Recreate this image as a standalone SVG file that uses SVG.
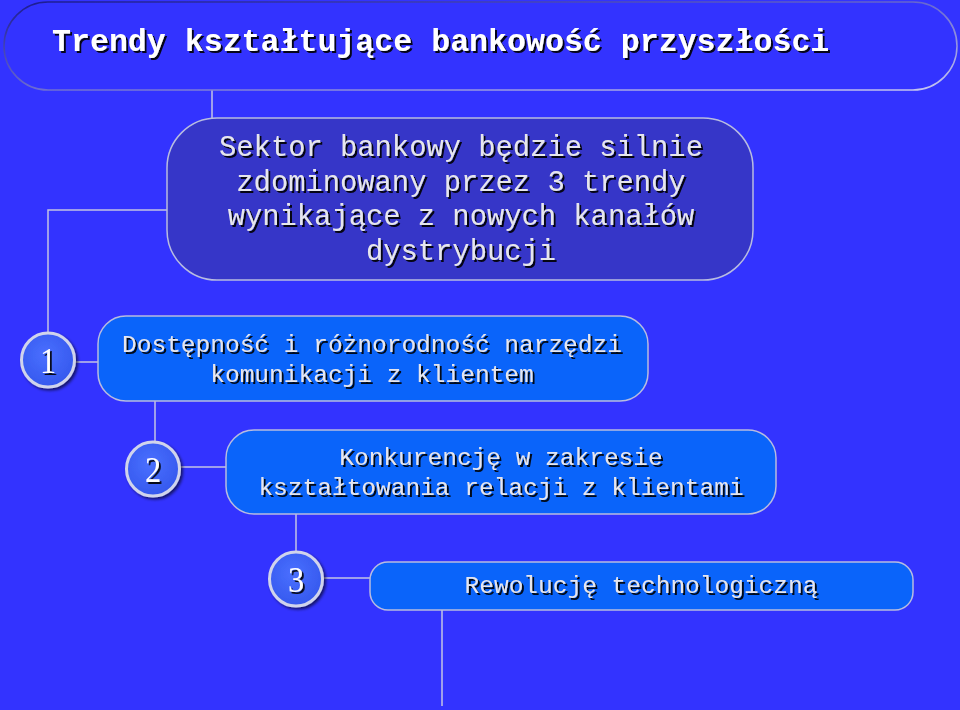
<svg xmlns="http://www.w3.org/2000/svg" width="960" height="710" viewBox="0 0 960 710">
<defs>
<linearGradient id="tb" x1="0" y1="0" x2="1" y2="1">
<stop offset="0" stop-color="#1a1a90"/>
<stop offset="0.5" stop-color="#6a6ad0"/>
<stop offset="1" stop-color="#c8c8f0"/>
</linearGradient>
<radialGradient id="cg" cx="0.45" cy="0.4" r="0.6">
<stop offset="0" stop-color="#4a70ff"/>
<stop offset="1" stop-color="#3558ee"/>
</radialGradient>
<filter id="sh" x="-10%" y="-30%" width="120%" height="160%">
<feDropShadow dx="2" dy="2" stdDeviation="0.6" flood-color="#000" flood-opacity="0.9"/>
</filter>
<filter id="cs" x="-30%" y="-30%" width="160%" height="160%">
<feDropShadow dx="2" dy="2" stdDeviation="1.5" flood-color="#000" flood-opacity="0.6"/>
</filter>
</defs>
<style>
.title{font-family:"Liberation Mono","Courier New",monospace;font-weight:bold;font-size:31.6px;fill:#ffffff;}
.t{font-family:"Liberation Mono","Courier New",monospace;font-size:28.8px;fill:#e6e6ee;text-anchor:middle;}
.s{font-family:"Liberation Mono","Courier New",monospace;font-size:24.5px;fill:#e6e6ee;text-anchor:middle;}
.num{font-family:"Liberation Serif","Times New Roman",serif;font-size:36px;fill:#ffffff;text-anchor:middle;}
.conn{stroke:#c4c4e4;stroke-width:1.5;fill:none;}
.box{stroke:#b8bce0;stroke-width:1.5;}
.circ{fill:url(#cg);stroke:#d0d4ec;stroke-width:3;}
</style>
<rect width="960" height="710" fill="#3333ff"/>
<g id="connectors">
<line class="conn" x1="212" y1="90" x2="212" y2="118"/>
<polyline class="conn" points="167,210 48,210 48,332"/>
<line class="conn" x1="75" y1="362" x2="98" y2="362"/>
<line class="conn" x1="155" y1="401" x2="155" y2="442"/>
<line class="conn" x1="180" y1="467" x2="226" y2="467"/>
<line class="conn" x1="296" y1="514" x2="296" y2="551"/>
<line class="conn" x1="323" y1="578" x2="370" y2="578"/>
<line class="conn" x1="442" y1="610" x2="442" y2="706"/>
</g>
<g id="title">
<rect x="4" y="2" width="953" height="88" rx="44" ry="44" fill="#3333ff" stroke="url(#tb)" stroke-width="1.5"/>
<text class="title" x="52" y="51" filter="url(#sh)">Trendy kształtujące bankowość przyszłości</text>
</g>
<g id="summary">
<rect class="box" x="167" y="118" width="586" height="162" rx="50" ry="50" fill="#3636c8"/>
<g filter="url(#sh)">
<text class="t" x="461" y="156">Sektor bankowy będzie silnie</text>
<text class="t" x="461" y="191">zdominowany przez 3 trendy</text>
<text class="t" x="461" y="225">wynikające z nowych kanałów</text>
<text class="t" x="461" y="260">dystrybucji</text>
</g>
</g>
<g id="n1">
<ellipse class="circ" cx="48" cy="360" rx="26.5" ry="27" filter="url(#cs)"/>
<text class="num" x="0" y="373" transform="translate(48 0) scale(0.9 1)" filter="url(#sh)">1</text>
</g>
<g id="trend1">
<rect class="box" x="98" y="316" width="550" height="85" rx="28" ry="28" fill="#0a64fa"/>
<g filter="url(#sh)">
<text class="s" x="372" y="352">Dostępność i różnorodność narzędzi</text>
<text class="s" x="372" y="382">komunikacji z klientem</text>
</g>
</g>
<g id="n2">
<ellipse class="circ" cx="153" cy="469" rx="26.5" ry="27" filter="url(#cs)"/>
<text class="num" x="0" y="482" transform="translate(153 0) scale(0.9 1)" filter="url(#sh)">2</text>
</g>
<g id="trend2">
<rect class="box" x="226" y="430" width="550" height="84" rx="28" ry="28" fill="#0a64fa"/>
<g filter="url(#sh)">
<text class="s" x="501" y="465">Konkurencję w zakresie</text>
<text class="s" x="501" y="495">kształtowania relacji z klientami</text>
</g>
</g>
<g id="n3">
<ellipse class="circ" cx="296" cy="579" rx="26.5" ry="27" filter="url(#cs)"/>
<text class="num" x="0" y="592" transform="translate(296 0) scale(0.9 1)" filter="url(#sh)">3</text>
</g>
<g id="trend3">
<rect class="box" x="370" y="562" width="543" height="48" rx="18" ry="18" fill="#0a64fa"/>
<text class="s" x="641" y="593" filter="url(#sh)">Rewolucję technologiczną</text>
</g>
</svg>
